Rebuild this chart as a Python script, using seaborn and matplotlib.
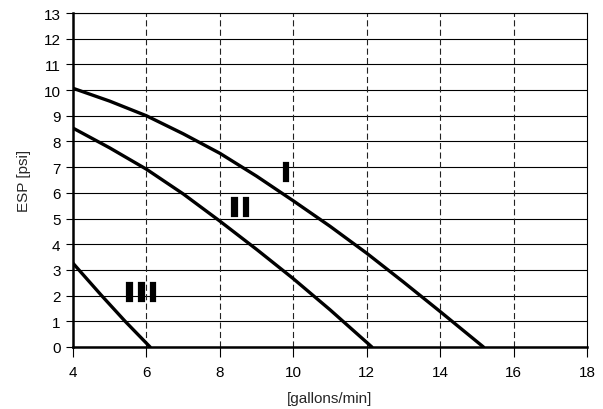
import matplotlib
matplotlib.use("Agg")
import matplotlib.pyplot as plt
import matplotlib.patheffects as pe
import numpy as np
import pandas as pd
import seaborn as sb

# pump curves: flow [gallons/min] vs ESP [psi]
flow_I = [4, 5, 6, 7, 8, 9, 10, 11, 12, 13, 14, 15.18]
esp_I = [10.07, 9.57, 9.0, 8.3, 7.54, 6.65, 5.69, 4.7, 3.65, 2.53, 1.38, 0.0]

flow_II = [4, 5, 6, 7, 8, 9, 10, 11, 12, 12.14]
esp_II = [8.52, 7.75, 6.92, 5.96, 4.9, 3.8, 2.66, 1.45, 0.18, 0.0]

flow_III = [4.0, 4.78, 5.42, 6.1]
esp_III = [3.26, 2.0, 1.0, 0.0]

curve_names = ["I", "II", "III"]
# label anchor points (flow, esp)
label_flow = [9.8, 8.55, 5.86]
label_esp = [6.74, 5.38, 2.06]

xticks = [4, 6, 8, 10, 12, 14, 16, 18]
yticks = list(range(0, 14))

df = pd.concat([
    pd.DataFrame({"flow": flow_I, "esp": esp_I, "pump": "I"}),
    pd.DataFrame({"flow": flow_II, "esp": esp_II, "pump": "II"}),
    pd.DataFrame({"flow": flow_III, "esp": esp_III, "pump": "III"}),
])

sb.set_style("white")
plt.rcParams["font.family"] = ["Liberation Sans", "DejaVu Sans"]

fig = plt.figure(figsize=(6.03, 4.10), dpi=100)
ax = fig.add_axes([73 / 603, 1 - 348 / 410, 514 / 603, 334 / 410])

for y in yticks:
    ax.axhline(y, color="black", lw=0.8, zorder=1)
for x in xticks[1:-1]:
    ax.axvline(x, color="#222222", lw=0.8, ls=(0, (5.5, 3)), zorder=1)

sb.lineplot(data=df, x="flow", y="esp", hue="pump", sort=False,
            palette=["black", "black", "black"], lw=2.4, legend=False, ax=ax, zorder=3)
for ln in ax.get_lines()[-3:]:
    ln.set_solid_joinstyle("round")

for name, fx, fy in zip(curve_names, label_flow, label_esp):
    # hair spaces between the strokes to match the wide letter spacing
    ax.text(fx, fy, "\u200a".join(name), ha="center", va="center", fontsize=18,
            fontweight="bold", family="DejaVu Sans", color="black", zorder=4,
            path_effects=[pe.withStroke(linewidth=1.6, foreground="black",
                                        joinstyle="miter")])

ax.set_xlim(4, 18)
ax.set_ylim(0, 13)
ax.set_xticks(xticks)
ax.set_yticks(yticks)
ax.tick_params(axis="x", direction="out", length=7, width=0.8, pad=6, labelsize=11, colors="black")
ax.tick_params(axis="y", direction="out", length=5, width=0.8, pad=4, labelsize=11, colors="black")
ax.tick_params(left=True, bottom=True)

for side in ["top", "right"]:
    ax.spines[side].set_linewidth(0.8)
    ax.spines[side].set_color("black")
ax.spines["left"].set_linewidth(1.8)
ax.spines["bottom"].set_linewidth(1.8)
ax.spines["left"].set_color("black")
ax.spines["bottom"].set_color("black")

ax.set_xlabel("[gallons/min]", fontsize=11)
ax.set_ylabel("ESP [psi]", fontsize=11)
ax.xaxis.set_label_coords(0.5, -0.132)
ax.yaxis.set_label_coords(-0.082, 0.5)

fig.savefig("out.png", dpi=100)
